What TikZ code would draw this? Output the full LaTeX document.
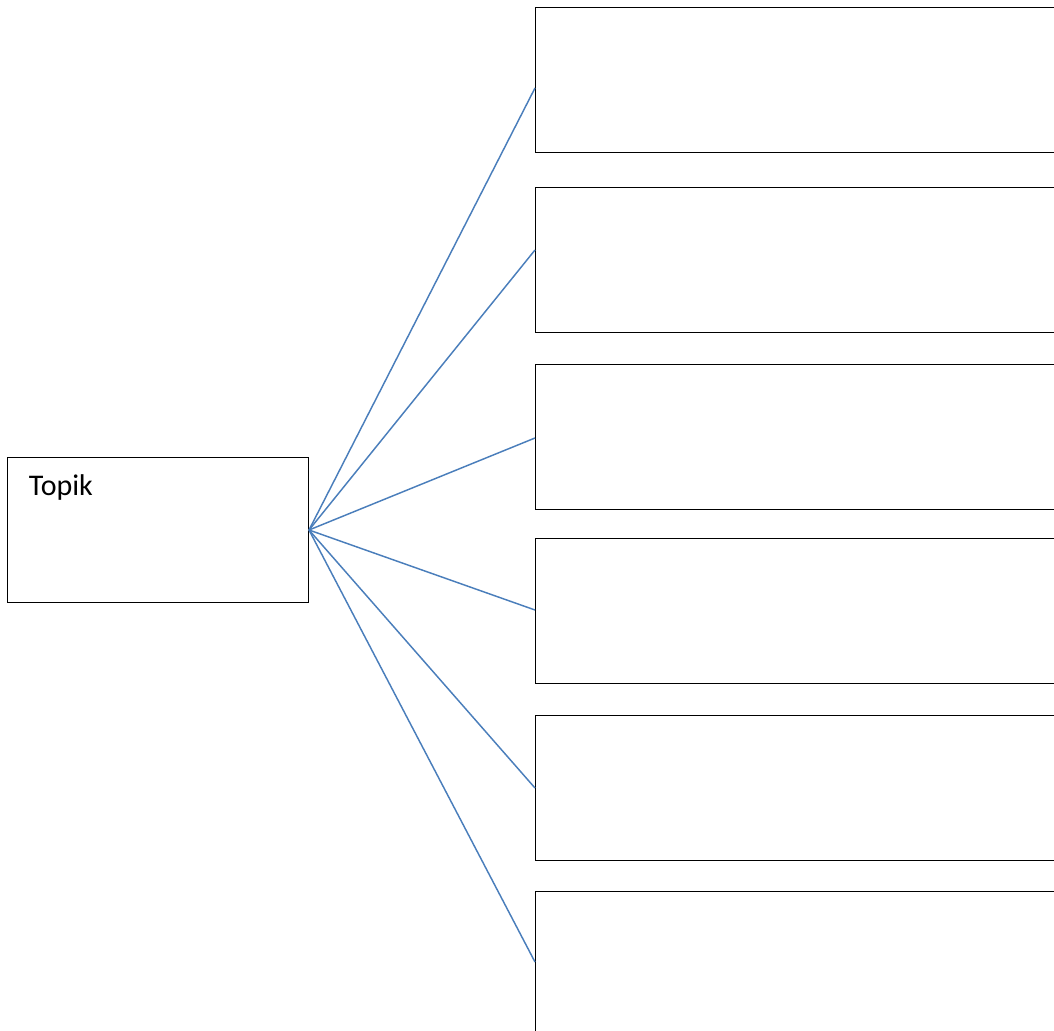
\documentclass[tikz,border=0pt]{standalone}
\usepackage{fontspec}
\setmainfont{Carlito}
\usetikzlibrary{positioning}
\definecolor{linkblue}{HTML}{4A7EBB}

\begin{document}
\begin{tikzpicture}[x=0.75pt, y=-0.75pt, line width=0.75pt,
box/.style={draw, rectangle, anchor=north west, inner sep=0pt,
  minimum width=397.5pt, minimum height=108.75pt},
link/.style={draw=linkblue, line width=1.1pt}]

\useasboundingbox (0,0) rectangle (1054,1031);
\clip (0,0) rectangle (1054,1031);

\node [draw, rectangle, anchor=north west, inner sep=0pt,
  minimum width=225.75pt, minimum height=108.75pt] (topik) at (7,457) {};
\node [anchor=base west, inner sep=0pt, font=\fontsize{22.5}{27}\selectfont]
  (topiktext) at ([xshift=16pt, yshift=-28.5pt]topik.north west) {Topik};

\node [box] (one) at (535,7) {};
\node [box] (two) at (535,187) {};
\node [box] (three) at (535,364) {};
\node [box] (four) at (535,538) {};
\node [box] (five) at (535,715) {};
\node [box] (six) at (535,891) {};

\coordinate (pone) at (535,88);
\coordinate (ptwo) at (535,250);
\coordinate (pthree) at (535,438);
\coordinate (pfour) at (535,610);
\coordinate (pfive) at (535,788);
\coordinate (psix) at (535,962);

\path (topik.east) edge [link] (pone);
\path (topik.east) edge [link] (ptwo);
\path (topik.east) edge [link] (pthree);
\path (topik.east) edge [link] (pfour);
\path (topik.east) edge [link] (pfive);
\path (topik.east) edge [link] (psix);

\end{tikzpicture}
\end{document}
